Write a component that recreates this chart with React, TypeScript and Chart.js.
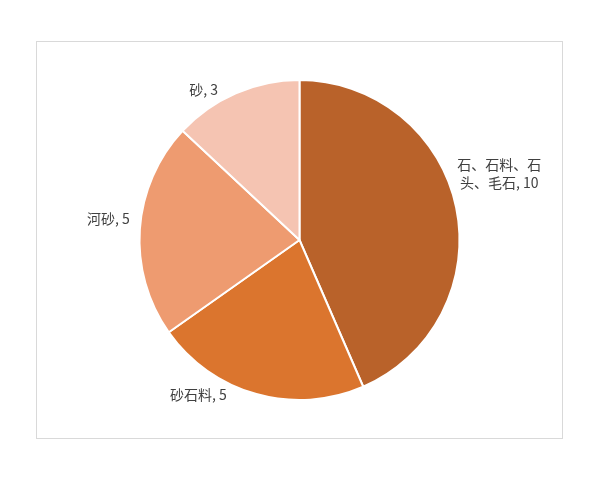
import React, { useEffect, useRef } from 'react';
import { Chart, registerables } from 'chart.js';

Chart.register(...registerables);

const categories = ['石、石料、石头、毛石', '砂石料', '河砂', '砂'];
const labelLines = [['石、石料、石', '头、毛石, 10'], ['砂石料, 5'], ['河砂, 5'], ['砂, 3']];
const values = [10, 5, 5, 3];
const sliceColors = ['#B9622A', '#DB752E', '#EE9B70', '#F5C4B2'];

// Excel-like "best fit" data labels drawn outside each slice
const outsideLabels = {
    id: 'outsideLabels',
    afterDatasetsDraw(chart: any, _args: any, opts: any) {
        const ctx = chart.ctx;
        const meta = chart.getDatasetMeta(0);
        ctx.save();
        ctx.font = '14px "Noto Sans CJK SC", "Noto Sans", sans-serif';
        ctx.fillStyle = '#404040';
        ctx.textBaseline = 'middle';
        meta.data.forEach((arc: any, i: number) => {
            const { x, y, startAngle, endAngle, outerRadius } = arc.getProps(
                ['x', 'y', 'startAngle', 'endAngle', 'outerRadius'], true);
            const mid = (startAngle + endAngle) / 2 + (opts.shift[i] * Math.PI) / 180;
            const dist = outerRadius + opts.gap;
            const ax = x + Math.cos(mid) * dist;
            const ay = y + Math.sin(mid) * dist;
            ctx.textAlign = Math.cos(mid) >= 0 ? 'left' : 'right';
            const lines = labelLines[i];
            const lh = 18;
            const w = Math.max(...lines.map((l) => ctx.measureText(l).width));
            lines.forEach((line, k) => {
                const ly = ay + (k - (lines.length - 1) / 2) * lh;
                if (lines.length > 1) {
                    ctx.textAlign = 'center';
                    const cx = Math.cos(mid) >= 0 ? ax + w / 2 : ax - w / 2;
                    ctx.fillText(line, cx, ly);
                } else {
                    ctx.fillText(line, ax, ly);
                }
            });
        });
        ctx.restore();
    },
};

const App: React.FC = () => {
    const chartRef = useRef<HTMLCanvasElement>(null);
    const chartInstance = useRef<Chart | null>(null);

    useEffect(() => {
        document.body.style.margin = '0';
        if (!chartRef.current) return;
        if (chartInstance.current) chartInstance.current.destroy();

        chartInstance.current = new Chart(chartRef.current, {
            type: 'pie',
            data: {
                labels: categories,
                datasets: [
                    {
                        data: values,
                        backgroundColor: sliceColors,
                        borderColor: '#ffffff',
                        borderWidth: 2,
                    },
                ],
            },
            options: {
                animation: false,
                responsive: false,
                maintainAspectRatio: false,
                layout: { padding: { top: 37, bottom: 37, left: 0, right: 0 } },
                plugins: {
                    legend: { display: false },
                    tooltip: { enabled: false },
                    outsideLabels: { gap: 11, shift: [-11, 9.5, 3.4, -5] },
                } as any,
            },
            plugins: [outsideLabels],
        });

        return () => {
            if (chartInstance.current) {
                chartInstance.current.destroy();
                chartInstance.current = null;
            }
        };
    }, []);

    return (
        <div style={{ position: 'relative', width: 600, height: 480, background: '#fff' }}>
            <div
                style={{
                    position: 'absolute',
                    left: 36,
                    top: 41,
                    width: 525,
                    height: 396,
                    border: '1px solid #d9d9d9',
                }}
            >
                <canvas ref={chartRef} width={525} height={396} style={{ display: 'block' }} />
            </div>
        </div>
    );
};

export default App;
